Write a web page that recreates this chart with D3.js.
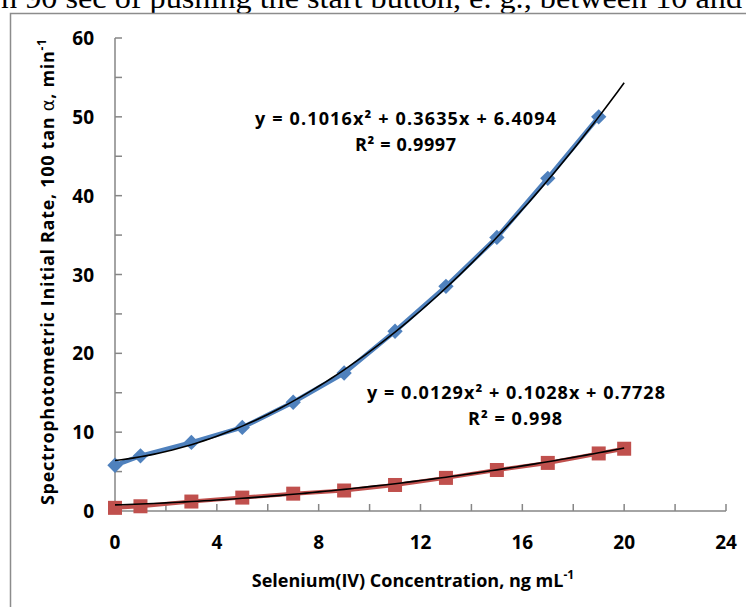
<!DOCTYPE html>
<html>
<head>
<meta charset="utf-8">
<script src="https://cdn.jsdelivr.net/npm/d3@7"></script>
<style>
  body { margin: 0; background: #fff; }
  svg { display: block; }
  text { font-family: "Open Sans", sans-serif; font-weight: bold; fill: #000; }
</style>
</head>
<body>
<div class="chart-wrapper"></div>
<script>
const W = 746, H = 607;

// data
const blueX = [0, 1, 3, 5, 7, 9, 11, 13, 15, 17, 19];
const blueY = [5.8, 7.0, 8.7, 10.6, 13.8, 17.5, 22.8, 28.5, 34.7, 42.2, 50.0];
const redX = [0, 1, 3, 5, 7, 9, 11, 13, 15, 17, 19, 20];
const redY = [0.4, 0.6, 1.2, 1.7, 2.2, 2.6, 3.3, 4.2, 5.2, 6.1, 7.3, 7.9];

// trendline coefficients [a, b, c] for a x^2 + b x + c
const blueFit = [0.1016, 0.3635, 6.4094];
const redFit = [0.0129, 0.1028, 0.7728];
const fitRange = [0, 20];

const xTicks = [0, 4, 8, 12, 16, 20, 24];
const yTicks = [0, 10, 20, 30, 40, 50, 60];

const svg = d3.select('.chart-wrapper')
.append('svg')
.attr('width', W)
.attr('height', H);

// cut-off line of body text from the page above the figure
svg.append('text')
.attr('x', 1)
.attr('y', 8)
.attr('textLength', 741)
.attr('lengthAdjust', 'spacingAndGlyphs')
.style('font-family', '"Liberation Serif", serif')
.style('font-weight', 'normal')
.style('font-size', '30px')
.text('n 90 sec of pushing the start button, e. g., between 10 and');

// figure frame
svg.append('rect')
.attr('x', 10.5)
.attr('y', 13.5)
.attr('width', 760)
.attr('height', 620)
.attr('fill', 'none')
.attr('stroke', '#8c8c8c')
.attr('stroke-width', 1.5);

let x = d3.scaleLinear().domain([0, 24]).range([115, 726]);
let y = d3.scaleLinear().domain([0, 60]).range([511, 38]);

const axisColor = '#868686';

// y axis
const gy = svg.append('g');
gy.append('line')
.attr('x1', x(0)).attr('x2', x(0))
.attr('y1', y(0)).attr('y2', y(60))
.attr('stroke', axisColor).attr('stroke-width', 1.5);
gy.selectAll('.ytick')
.data(d3.range(0, 61, 5))
.enter()
.append('line')
.attr('x1', x(0)).attr('x2', x(0) + 7)
.attr('y1', d => y(d)).attr('y2', d => y(d))
.attr('stroke', axisColor).attr('stroke-width', 1.5);
gy.selectAll('.ylab')
.data(yTicks)
.enter()
.append('text')
.attr('x', 94)
.attr('y', d => y(d) + 7)
.attr('text-anchor', 'end')
.style('font-size', '19px')
.text(d => d);

// x axis
const gx = svg.append('g');
gx.append('line')
.attr('x1', x(0)).attr('x2', x(24))
.attr('y1', y(0)).attr('y2', y(0))
.attr('stroke', axisColor).attr('stroke-width', 1.5);
gx.selectAll('.xtick')
.data(d3.range(0, 25, 2))
.enter()
.append('line')
.attr('x1', d => x(d)).attr('x2', d => x(d))
.attr('y1', y(0)).attr('y2', y(0) - 7)
.attr('stroke', axisColor).attr('stroke-width', 1.5);
gx.selectAll('.xlab')
.data(xTicks)
.enter()
.append('text')
.attr('x', d => x(d))
.attr('y', 549)
.attr('text-anchor', 'middle')
.style('font-size', '19px')
.text(d => d);

// axis titles
const xt = svg.append('text')
.attr('x', 413)
.attr('y', 587)
.attr('text-anchor', 'middle')
.style('font-size', '18px');
xt.append('tspan').text('Selenium(IV) Concentration, ng mL');
xt.append('tspan').attr('dy', -8).style('font-size', '12px').text('-1');

const yt = svg.append('text')
.attr('transform', 'translate(54,' + 272 + ') rotate(-90)')
.attr('text-anchor', 'middle')
.attr('textLength', 466)
.attr('lengthAdjust', 'spacing')
.style('font-size', '18px');
yt.append('tspan').text('Spectrophotometric Initial Rate, 100 tan ');
yt.append('tspan').style('font-family', '"DejaVu Sans", sans-serif').style('font-weight', 'normal').text('α');
yt.append('tspan').text(', min');
yt.append('tspan').attr('dy', -8).style('font-size', '12px').text('-1');

const line = d3.line().x(d => x(d[0])).y(d => y(d[1]));

const blue = '#4f81bd', red = '#c0504d';

// data lines
svg.append('path')
.datum(d3.zip(blueX, blueY))
.attr('d', line)
.attr('fill', 'none')
.attr('stroke', blue)
.attr('stroke-width', 4.5);

svg.append('path')
.datum(d3.zip(redX, redY))
.attr('d', line)
.attr('fill', 'none')
.attr('stroke', red)
.attr('stroke-width', 4);

// markers
svg.selectAll('.diamond')
.data(d3.zip(blueX, blueY))
.enter()
.append('path')
.attr('d', d3.symbol(d3.symbolDiamond2, 150))
.attr('transform', d => 'translate(' + x(d[0]) + ',' + y(d[1]) + ')')
.attr('fill', blue);

svg.selectAll('.square')
.data(d3.zip(redX, redY))
.enter()
.append('rect')
.attr('x', d => x(d[0]) - 7)
.attr('y', d => y(d[1]) - 7)
.attr('width', 14)
.attr('height', 14)
.attr('fill', red);

// polynomial trendlines
const fitPoints = c => d3.range(fitRange[0], fitRange[1] + 0.001, 0.25)
.map(t => [t, c[0] * t * t + c[1] * t + c[2]]);

[blueFit, redFit].forEach(c => {
    svg.append('path')
    .datum(fitPoints(c))
    .attr('d', line)
    .attr('fill', 'none')
    .attr('stroke', '#000')
    .attr('stroke-width', 1.6);
});

// equation labels
const fmt = d3.format('.4f');
const eq = (c, x0, x1, base, r0, r1, r2) => {
    svg.append('text')
    .attr('x', x0).attr('y', base)
    .attr('textLength', x1 - x0)
    .attr('lengthAdjust', 'spacing')
    .style('font-size', '18px')
    .text('y = ' + fmt(c[0]) + 'x² + ' + fmt(c[1]) + 'x + ' + fmt(c[2]));
    svg.append('text')
    .attr('x', r0).attr('y', base + 26)
    .attr('textLength', r1 - r0)
    .attr('lengthAdjust', 'spacing')
    .style('font-size', '18px')
    .text('R² = ' + r2);
}

eq(blueFit, 255, 556, 125, 355, 456, '0.9997');
eq(redFit, 367, 665, 399, 468, 562, '0.998');
</script>
</body>
</html>
